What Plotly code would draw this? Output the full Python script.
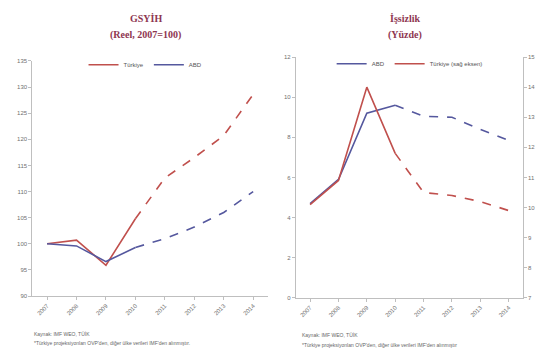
import plotly.graph_objects as go

years = ["2007", "2008", "2009", "2010", "2011", "2012", "2013", "2014"]

# GSYİH (Reel, 2007=100)
gdp_turkiye = [100.0, 100.7, 95.9, 104.8, 112.6, 116.5, 120.7, 128.6]
gdp_abd = [100.0, 99.6, 96.6, 99.3, 101.0, 103.2, 106.0, 110.0]

# İşsizlik (Yüzde)
unemp_abd = [4.7, 5.9, 9.2, 9.6, 9.05, 9.0, 8.4, 7.85]
unemp_turkiye = [10.1, 10.9, 14.0, 11.8, 10.5, 10.4, 10.2, 9.9]

last_actual = 3  # index of 2010: actual until here, projection afterwards

gdp_ticks = [90, 95, 100, 105, 110, 115, 120, 125, 130, 135]
unemp_ticks = [0, 2, 4, 6, 8, 10, 12]
unemp_tr_ticks = [7, 8, 9, 10, 11, 12, 13, 14, 15]

RED = "#C0504D"
BLUE = "#55589E"
TITLE = "#8E3650"
TICK = "#707070"
AXIS = "#bfbfbf"

fig = go.Figure()

def add_series(name, x, y, color, xa, ya, legend):
    fig.add_trace(go.Scatter(
        x=x[:last_actual + 1], y=y[:last_actual + 1], mode="lines", name=name,
        line=dict(color=color, width=1.6), xaxis=xa, yaxis=ya, legend=legend,
        showlegend=True))
    fig.add_trace(go.Scatter(
        x=x[last_actual:], y=y[last_actual:], mode="lines", name=name,
        line=dict(color=color, width=1.6, dash="dash"), xaxis=xa, yaxis=ya,
        legend=legend, showlegend=False))

add_series("Türkiye", years, gdp_turkiye, RED, "x", "y", "legend")
add_series("ABD", years, gdp_abd, BLUE, "x", "y", "legend")
add_series("ABD", years, unemp_abd, BLUE, "x2", "y2", "legend2")
add_series("Türkiye (sağ eksen)", years, unemp_turkiye, RED, "x2", "y3", "legend2")

def tf():
    return dict(family="Liberation Sans, Arial", size=6, color=TICK)

def ycommon():
    return dict(tickfont=tf(), color=TICK, showline=True, linecolor=AXIS, ticks="outside",
                ticklen=3, tickcolor=AXIS, showgrid=False, zeroline=False)

def xcommon():
    return dict(type="category", range=[-0.5, 7.5], tickangle=-45, tickfont=tf(),
                color=TICK, showline=True, linecolor=AXIS, linewidth=1, ticks="outside",
                ticklen=3, tickcolor=AXIS, showgrid=False, zeroline=False)

fig.update_layout(
    width=539, height=357,
    margin=dict(l=0, r=0, t=0, b=0),
    paper_bgcolor="white", plot_bgcolor="white",
    xaxis=dict(domain=[0.060, 0.497], anchor="y", **xcommon()),
    yaxis=dict(domain=[0.165, 0.835], anchor="x", range=[90, 135], tickvals=gdp_ticks,
               **ycommon()),
    xaxis2=dict(domain=[0.549, 0.970], anchor="y2", **xcommon()),
    yaxis2=dict(domain=[0.160, 0.846], anchor="x2", range=[0, 12], tickvals=unemp_ticks,
                **ycommon()),
    yaxis3=dict(domain=[0.160, 0.846], anchor="x2", overlaying="y2", side="right",
                range=[7, 15], tickvals=unemp_tr_ticks, **ycommon()),
    legend=dict(orientation="h", x=0.27, y=0.824, xanchor="center", yanchor="middle",
                font=dict(family="Liberation Sans, Arial", size=6, color="#555"),
                bgcolor="rgba(0,0,0,0)", itemwidth=30, tracegroupgap=0),
    legend2=dict(orientation="h", x=0.76, y=0.827, xanchor="center", yanchor="middle",
                 font=dict(family="Liberation Sans, Arial", size=6, color="#555"),
                 bgcolor="rgba(0,0,0,0)", itemwidth=30, tracegroupgap=0),
    showlegend=True,
)

title_font = dict(family="Liberation Serif, DejaVu Serif", size=10, color=TITLE)
annots = [
    dict(text="<b>GSYİH</b>", x=0.27, y=0.955),
    dict(text="<b>(Reel, 2007=100)</b>", x=0.27, y=0.908),
    dict(text="<b>İşsizlik</b>", x=0.752, y=0.955),
    dict(text="<b>(Yüzde)</b>", x=0.752, y=0.908),
]
for a in annots:
    fig.add_annotation(xref="paper", yref="paper", xanchor="center", yanchor="middle",
                       showarrow=False, font=title_font, **a)

note_font = dict(family="Liberation Sans, Arial", size=5, color="#666")
notes = [
    dict(text="Kaynak: IMF WEO, TÜİK", x=0.060, y=0.058),
    dict(text="*Türkiye projeksiyonları OVP'den, diğer ülke verileri IMF'den alınmıştır.",
         x=0.060, y=0.030),
    dict(text="Kaynak: IMF WEO, TÜİK", x=0.557, y=0.053),
    dict(text="*Türkiye projeksiyonları OVP'den, diğer ülke verileri IMF'den alınmıştır",
         x=0.557, y=0.025),
]
for n in notes:
    fig.add_annotation(xref="paper", yref="paper", xanchor="left", yanchor="middle",
                       showarrow=False, font=note_font, **n)

fig.write_html("out.html")
